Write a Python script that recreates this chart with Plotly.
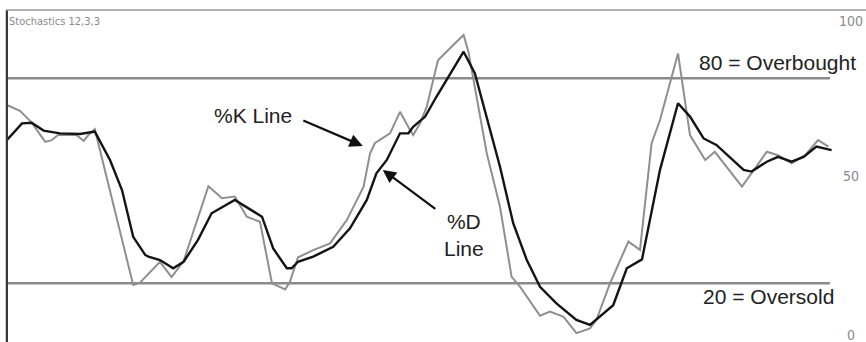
import plotly.graph_objects as go

# %K (fast) line, gray: bar position and value
k_bar = [0.1, 1.75, 3.2, 4.9, 5.7, 6.5, 8.8, 9.7, 10.3, 11.1, 15.9, 16.75, 19.25, 20.7,
         22.2, 25.3, 27.0, 28.6, 30.1, 31.75, 33.25, 34.9, 35.5, 36.5, 38.4, 40.5, 42.6,
         44.7, 45.5, 46.1, 48.0, 49.25, 50.5, 50.9, 51.75, 52.6, 53.4, 54.0, 55.5, 57.2,
         57.8, 60.1, 61.75, 63.2, 64.25, 66.75, 68.0, 69.7, 71.3, 73.0, 73.8, 75.5, 77.8,
         79.25, 80.7, 81.75, 84.0, 85.5, 87.4, 88.6, 92.0, 95.1, 96.5, 98.2, 99.9, 101.5,
         102.8]
k_val = [72.2, 70.5, 67.1, 61.4, 61.9, 63.4, 63.4, 61.7, 63.4, 65.1, 19.5, 20.2, 26.3, 21.8,
         26.5, 48.4, 44.9, 45.4, 39.5, 38.0, 20.0, 18.2, 20.5, 27.6, 29.7, 31.7, 38.5,
         48.3, 58.0, 61.0, 63.9, 70.2, 64.9, 63.4, 66.8, 71.7, 79.5, 85.3, 88.8, 92.7,
         87.8, 58.0, 42.4, 21.9, 19.0, 10.5, 11.7, 10.2, 5.4, 6.8, 9.3, 20.0, 32.2,
         29.8, 61.0, 67.8, 87.3, 63.4, 56.1, 58.5, 48.3, 58.5, 57.5, 55.1, 57.5, 61.9,
         60.0]

# %D (slow) line, black
d_bar = [0.1, 2.0, 3.2, 4.7, 6.75, 9.25, 11.1, 13.0, 14.5, 15.9, 17.4, 17.8, 19.25, 20.9,
         22.2, 24.0, 25.7, 26.75, 28.6, 32.0, 33.4, 35.1, 35.7, 36.5, 38.4, 40.9, 43.0,
         45.1, 46.3, 47.6, 49.25, 50.3, 50.9, 52.4, 53.8, 57.2, 58.6, 61.75, 63.4, 65.1,
         66.75, 68.8, 71.3, 73.0, 74.7, 75.9, 77.6, 79.5, 81.75, 84.0, 85.5, 87.2, 88.8,
         92.2, 93.2, 95.1, 96.5, 98.2, 99.7, 101.3, 103.2]
d_val = [61.9, 66.8, 67.0, 64.7, 63.9, 63.7, 64.4, 56.1, 47.3, 33.6, 28.3, 27.8, 26.8, 24.4,
         26.3, 32.7, 40.5, 41.9, 44.4, 39.5, 30.2, 24.4, 24.4, 26.3, 27.8, 30.7, 36.1,
         44.4, 52.2, 56.1, 63.9, 63.9, 65.8, 68.8, 74.6, 87.8, 81.5, 54.1, 37.6, 26.8,
         19.0, 14.1, 9.3, 7.8, 11.2, 13.6, 24.4, 27.0, 53.2, 72.7, 68.8, 62.4, 60.5,
         53.2, 52.7, 55.6, 57.0, 55.6, 57.0, 60.0, 59.0]

levels = [80, 20]
level_text = ["80 = Overbought", "20 = Oversold"]
tick_text = ["100", "50", "0"]

NARROW = "Liberation Sans Narrow, DejaVu Sans Condensed, Arial Narrow, sans-serif"
SANS = "Liberation Sans, Arial, sans-serif"

fig = go.Figure()
fig.add_trace(go.Scatter(x=k_bar, y=k_val, mode="lines", name="%K",
                         line=dict(color="#8f8f8f", width=2)))
fig.add_trace(go.Scatter(x=d_bar, y=d_val, mode="lines", name="%D",
                         line=dict(color="#141414", width=2.4)))

for lv in levels:
    fig.add_shape(type="line", x0=0, x1=103, y0=lv, y1=lv, layer="below",
                  line=dict(color="#8a8a8a", width=2.5))

# frame: dark left edge, thin gray top edge
fig.add_shape(type="line", xref="paper", yref="paper", x0=0.001, x1=0.001, y0=0, y1=1,
              line=dict(color="#333333", width=2.2))
fig.add_shape(type="line", xref="paper", yref="paper", x0=0, x1=1, y0=1, y1=1,
              line=dict(color="#999999", width=1.5))

ann = [
    dict(x=96.4, y=84.5, text=level_text[0]),
    dict(x=95.25, y=16.0, text=level_text[1]),
    dict(x=30.9, y=69.0, text="%K Line"),
    dict(x=57.25, y=34.1, text="%D<br>Line"),
]
for a in ann:
    fig.add_annotation(**a, showarrow=False, font=dict(family=SANS, size=21, color="#222222"))

# arrows
fig.add_annotation(x=44.6, y=60.2, ax=-61, ay=-26, text="", showarrow=True,
                   arrowhead=2, arrowsize=1.2, arrowwidth=2.2, arrowcolor="#111111")
fig.add_annotation(x=47.1, y=53.2, ax=54, ay=40, text="", showarrow=True,
                   arrowhead=2, arrowsize=1.2, arrowwidth=2.2, arrowcolor="#111111")

# right-hand scale labels
for t, yv in zip(tick_text, [96.8, 51.4, 4.9]):
    fig.add_annotation(x=105.6, y=yv, text=t, showarrow=False,
                       font=dict(family=NARROW, size=14, color="#8a8a8a"))

fig.add_annotation(x=0.1, y=99.0, text="Stochastics 12,3,3", showarrow=False,
                   xanchor="left", yanchor="top",
                   font=dict(family=NARROW, size=11, color="#8a8a8a"))

fig.update_layout(
    width=866, height=342,
    margin=dict(l=6, r=0, t=10, b=0),
    paper_bgcolor="white", plot_bgcolor="white",
    showlegend=False,
    xaxis=dict(range=[0, 107.5], visible=False),
    yaxis=dict(range=[2.82, 100], visible=False),
)

# drop the page's default body margin so the figure sits at the window corner
fig.write_html("out.html", config={"displayModeBar": False},
               post_script="document.body.style.margin='0';")
